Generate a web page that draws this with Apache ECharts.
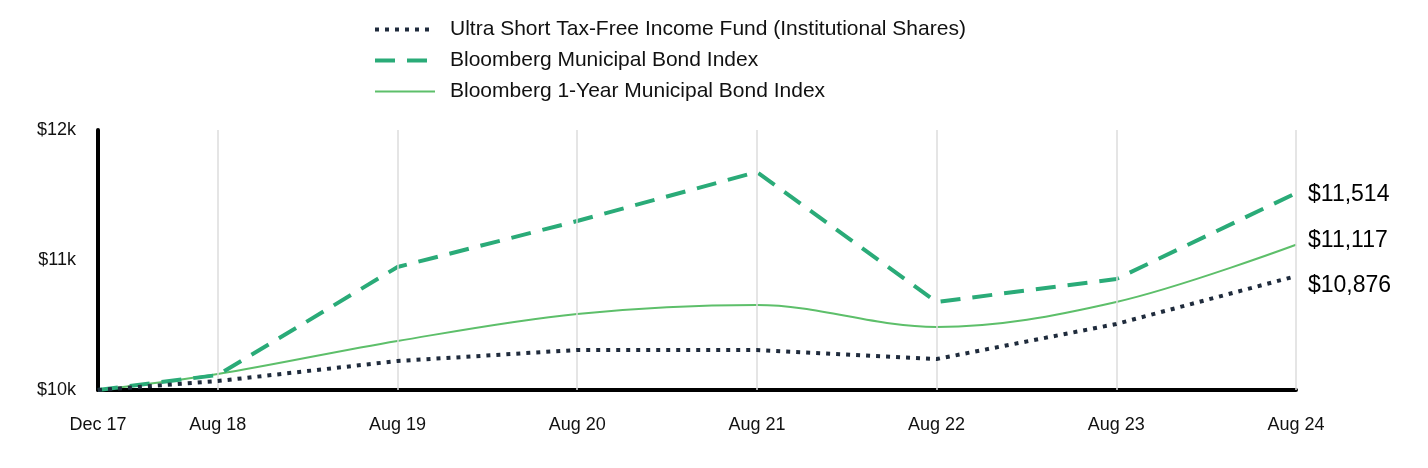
<!DOCTYPE html>
<html><head><meta charset="utf-8">
<script src="https://cdn.jsdelivr.net/npm/echarts@6/dist/echarts.min.js"></script>
<style>html,body{margin:0;padding:0;background:#fff}#c{width:1428px;height:468px}</style>
</head><body><div id="c"></div>
<script>
const periods = ['2017-12','2018-08','2019-08','2020-08','2021-08','2022-08','2023-08','2024-08'];
const tickLabels = ['Dec 17','Aug 18','Aug 19','Aug 20','Aug 21','Aug 22','Aug 23','Aug 24'];
const fund = [10000,10069,10223,10308,10308,10238,10508,10876];
const muni = [10000,10115,10946,11300,11677,10677,10854,11514];
const oneYear = [10000,10123,10377,10585,10654,10485,10677,11117];
const names = ['Ultra Short Tax-Free Income Fund (Institutional Shares)','Bloomberg Municipal Bond Index','Bloomberg 1-Year Municipal Bond Index'];

function monthIdx(p){const [y,m]=p.split('-').map(Number);const [y0,m0]=periods[0].split('-').map(Number);return (y-y0)*12+(m-m0);}
const xs = periods.map(monthIdx);
const pts = arr => arr.map((v,i)=>[xs[i],v]);
const fmt = v => '$' + v.toLocaleString('en-US');
const font = '"Liberation Sans", Arial, sans-serif';

const chart = echarts.init(document.getElementById('c'));
const endLabel = (dy) => ({show:true, formatter: p => fmt(p.value[1]), fontSize:23, color:'#000', fontFamily:font, distance:12, offset:[0,dy]});
chart.setOption({
  animation:false,
  legend:{orient:'vertical', left:368, top:14, itemWidth:60, itemHeight:14, itemGap:10,
    itemStyle:{opacity:0},
    lineStyle:{width:'inherit', type:'inherit'},
    textStyle:{fontSize:21, color:'#111', fontFamily:font, padding:[0,0,0,10]},
    data:names.map(n=>({name:n, itemStyle:{opacity:0}}))},
  grid:{left:98, right:132, top:130, bottom:78, containLabel:false},
  xAxis:{type:'value', min:xs[0], max:xs[xs.length-1],
    axisLine:{show:true, lineStyle:{color:'#000', width:4}},
    axisTick:{show:false},
    splitLine:{show:false},
    axisLabel:{customValues:xs, formatter: v => tickLabels[xs.indexOf(v)], margin:26, fontSize:18, color:'#111', fontFamily:font}},
  yAxis:{type:'value', min:10000, max:12000, interval:1000,
    axisLine:{show:true, lineStyle:{color:'#000', width:4}},
    axisTick:{show:false}, splitLine:{show:false},
    axisLabel:{formatter: v => '$'+(v/1000)+'k', margin:22, fontSize:18, color:'#111', fontFamily:font}},
  series:[
    {name:'grid', type:'line', data:[], silent:true, z:1, symbol:'none',
     markLine:{silent:true, symbol:'none', label:{show:false},
       lineStyle:{color:'#dddddd', width:1.5, type:'solid'},
       data: xs.slice(1).map(x=>({xAxis:x}))}},
    {name:names[2], type:'line', data:pts(oneYear), smooth:0.35, symbol:'none', z:3,
     lineStyle:{color:'#5dbf6a', width:2}, itemStyle:{color:'#5dbf6a'}, endLabel:endLabel(-4)},
    {name:names[1], type:'line', data:pts(muni), symbol:'none', z:4,
     lineStyle:{color:'#2aab78', width:4, type:[20,12]}, itemStyle:{color:'#2aab78'}, endLabel:endLabel(1)},
    {name:names[0], type:'line', data:pts(fund), symbol:'none', z:5,
     lineStyle:{color:'#1f2b3c', width:4, type:[4,6]}, itemStyle:{color:'#1f2b3c'}, endLabel:endLabel(10)}
  ]
});
</script></body></html>
